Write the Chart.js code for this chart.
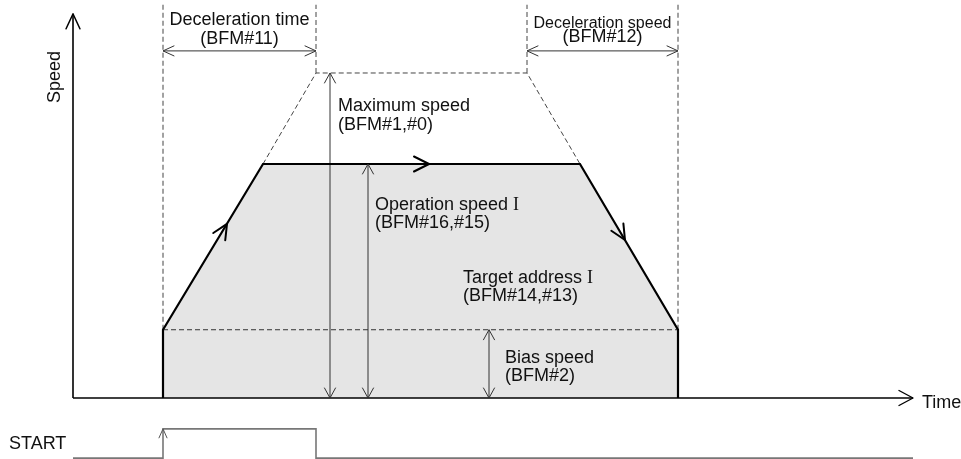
<!DOCTYPE html>
<html>
<head>
<meta charset="utf-8">
<title>Speed profile</title>
<script src="https://cdn.jsdelivr.net/npm/chart.js@4.4.1/dist/chart.umd.min.js"></script>
<style>
  html, body { margin: 0; padding: 0; background: #fff; }
  #wrap { width: 961px; height: 459px; position: relative; }
</style>
</head>
<body>
<div id="wrap"><canvas id="speedChart"></canvas></div>
<script>
// time in arbitrary units, speed in % of maximum speed
const axisTimeEnd = 84.0;
const axisSpeedTop = 118.2;
const guideTop = 121;

// operation profile (solid, filled)
const profileTime = [9.0, 9.0, 19.0, 50.7, 60.5, 60.5];
const profileSpeed = [0, 21, 72, 72, 21, 0];

// profile up to maximum speed (dashed)
const maxProfileTime = [19.0, 24.3, 45.4, 50.7];
const maxProfileSpeed = [72, 100, 100, 72];

// bias speed level
const biasTime = [9.0, 60.5];
const biasSpeed = [21, 21];

// vertical guide lines: time, lower speed
const guideTime = [9.0, 24.3, 45.4, 60.5];
const guideFrom = [21, 100, 100, 21];

// dimension arrows for the speeds: time, speed reached
const speedArrowTime = [25.7, 29.5, 41.6];
const speedArrowTo = [100, 72, 21];

// dimension arrows for the times
const spanLevel = 106.8;
const accelSpan = [9.0, 24.3];
const decelSpan = [45.4, 60.5];

// START signal
const startTime = [0, 9.0, 9.0, 24.3, 24.3, 84.0];
const startLevel = [-18.5, -18.5, -9.5, -9.5, -18.5, -18.5];

function pts(xs, ys) {
    return xs.map(function (x, i) { return { x: x, y: ys[i] }; });
}

function lineSet(data, color, width, dash, order) {
    return {
        data: data,
        showLine: true,
        borderColor: color,
        borderWidth: width,
        borderDash: dash || [],
        pointRadius: 0,
        fill: false,
        order: order,
        clip: false
    };
}

const datasets = [];
datasets.push(Object.assign(lineSet(pts(profileTime, profileSpeed), '#000', 2.2, null, 0), {
    fill: 'origin',
    backgroundColor: '#e5e5e5'
}));
datasets.push(lineSet([{ x: 0, y: 0 }, { x: 0, y: axisSpeedTop }], '#000', 1.6, null, 1));
datasets.push(lineSet([{ x: 0, y: 0 }, { x: axisTimeEnd, y: 0 }], '#000', 1.6, null, 1));
datasets.push(lineSet(pts(maxProfileTime, maxProfileSpeed), '#444', 1, [5, 3], 2));
datasets.push(lineSet(pts(biasTime, biasSpeed), '#333', 1, [5, 3], 2));
guideTime.forEach(function (t, i) {
    datasets.push(lineSet([{ x: t, y: guideFrom[i] }, { x: t, y: guideTop }], '#444', 1, [5, 3], 2));
});
speedArrowTime.forEach(function (t, i) {
    datasets.push(lineSet([{ x: t, y: 0 }, { x: t, y: speedArrowTo[i] }], '#333', 1, null, 2));
});
datasets.push(lineSet([{ x: accelSpan[0], y: spanLevel }, { x: accelSpan[1], y: spanLevel }], '#333', 1, null, 2));
datasets.push(lineSet([{ x: decelSpan[0], y: spanLevel }, { x: decelSpan[1], y: spanLevel }], '#333', 1, null, 2));
datasets.push(lineSet(pts(startTime, startLevel), '#777', 1.6, null, 2));

// arrow heads: tip and a point behind it, both in data units
const arrowHeads = [
    { tip: [0, axisSpeedTop], from: [0, 0], len: 15, half: 7, w: 1.4, color: '#000' },
    { tip: [axisTimeEnd, 0], from: [0, 0], len: 14, half: 7.5, w: 1.4, color: '#000' },
    { tip: [accelSpan[0], spanLevel], from: [accelSpan[1], spanLevel], len: 11, half: 5, w: 1, color: '#333' },
    { tip: [accelSpan[1], spanLevel], from: [accelSpan[0], spanLevel], len: 11, half: 5, w: 1, color: '#333' },
    { tip: [decelSpan[0], spanLevel], from: [decelSpan[1], spanLevel], len: 11, half: 5, w: 1, color: '#333' },
    { tip: [decelSpan[1], spanLevel], from: [decelSpan[0], spanLevel], len: 11, half: 5, w: 1, color: '#333' },
    { tip: [9.0, -9.5], from: [9.0, -18.5], len: 9, half: 4, w: 1, color: '#555' },
    // direction marks on the profile
    { tip: [15.4, 53.6], from: [9.0, 21], len: 15, half: 7, w: 2, color: '#000' },
    { tip: [35.6, 72], from: [19.0, 72], len: 15, half: 7.5, w: 2, color: '#000' },
    { tip: [55.2, 48.6], from: [50.7, 72], len: 15, half: 7, w: 2, color: '#000' }
];
speedArrowTime.forEach(function (t, i) {
    arrowHeads.push({ tip: [t, speedArrowTo[i]], from: [t, 0], len: 10, half: 5.5, w: 1, color: '#333' });
    arrowHeads.push({ tip: [t, 0], from: [t, speedArrowTo[i]], len: 10, half: 5.5, w: 1, color: '#333' });
});

const SANS = '"Liberation Sans", Arial, Helvetica, sans-serif';
const SERIF = '"Liberation Serif", "Times New Roman", serif';

// text: anchor in data units, align
const labels = [
    { text: 'Deceleration time', at: [16.65, 114.8], align: 'center', size: 18 },
    { text: '(BFM#11)', at: [16.65, 108.9], align: 'center', size: 18 },
    { text: 'Deceleration speed', at: [52.95, 113.8], align: 'center', size: 16 },
    { text: '(BFM#12)', at: [52.95, 109.6], align: 'center', size: 18 },
    { text: 'Maximum speed', at: [26.5, 88.2], align: 'left', size: 18 },
    { text: '(BFM#1,#0)', at: [26.5, 82.6], align: 'left', size: 18 },
    { text: 'Operation speed ', roman: 'I', at: [30.2, 57.8], align: 'left', size: 18 },
    { text: '(BFM#16,#15)', at: [30.2, 52.4], align: 'left', size: 18 },
    { text: 'Target address ', roman: 'I', at: [39.0, 35.4], align: 'left', size: 18 },
    { text: '(BFM#14,#13)', at: [39.0, 29.8], align: 'left', size: 18 },
    { text: 'Bias speed', at: [43.2, 10.8], align: 'left', size: 18 },
    { text: '(BFM#2)', at: [43.2, 5.2], align: 'left', size: 18 },
    { text: 'Time', at: [84.9, -3.1], align: 'left', size: 18 },
    { text: 'START', at: [-6.4, -15.7], align: 'left', size: 18 },
    { text: 'Speed', at: [-1.3, 98.8], align: 'center', size: 18, rotate: true }
];

const diagramPlugin = {
    id: 'diagram',
    afterDatasetsDraw: function (chart) {
        const ctx = chart.ctx;
        const xs = chart.scales.x;
        const ys = chart.scales.y;
        function px(p) { return [xs.getPixelForValue(p[0]), ys.getPixelForValue(p[1])]; }

        ctx.save();
        ctx.lineCap = 'round';
        ctx.lineJoin = 'round';
        arrowHeads.forEach(function (a) {
            const tip = px(a.tip);
            const from = px(a.from);
            const ang = Math.atan2(tip[1] - from[1], tip[0] - from[0]);
            const bx = tip[0] - a.len * Math.cos(ang);
            const by = tip[1] - a.len * Math.sin(ang);
            const nx = -Math.sin(ang) * a.half;
            const ny = Math.cos(ang) * a.half;
            ctx.strokeStyle = a.color;
            ctx.lineWidth = a.w;
            ctx.beginPath();
            ctx.moveTo(bx + nx, by + ny);
            ctx.lineTo(tip[0], tip[1]);
            ctx.lineTo(bx - nx, by - ny);
            ctx.stroke();
        });

        ctx.fillStyle = '#111';
        ctx.textBaseline = 'alphabetic';
        labels.forEach(function (l) {
            const p = px(l.at);
            ctx.font = l.size + 'px ' + SANS;
            if (l.rotate) {
                ctx.save();
                ctx.translate(p[0], p[1]);
                ctx.rotate(-Math.PI / 2);
                ctx.textAlign = 'center';
                ctx.fillText(l.text, 0, 0);
                ctx.restore();
                return;
            }
            ctx.textAlign = l.align;
            ctx.fillText(l.text, p[0], p[1]);
            if (l.roman) {
                const w = ctx.measureText(l.text).width;
                ctx.font = l.size + 'px ' + SERIF;
                ctx.textAlign = 'left';
                ctx.fillText(l.roman, p[0] + w, p[1]);
            }
        });
        ctx.restore();
    }
};

const chart = new Chart(document.getElementById('speedChart'), {
    type: 'scatter',
    data: { datasets: datasets },
    options: {
        responsive: true,
        maintainAspectRatio: false,
        animation: false,
        events: [],
        layout: { padding: 0 },
        scales: {
            x: { type: 'linear', min: -7.3, max: 88.8, display: false },
            y: { type: 'linear', min: -18.77, max: 122.46, display: false }
        },
        plugins: {
            legend: { display: false },
            tooltip: { enabled: false },
            filler: { drawTime: 'beforeDatasetsDraw' }
        }
    },
    plugins: [diagramPlugin]
});
</script>
</body>
</html>
